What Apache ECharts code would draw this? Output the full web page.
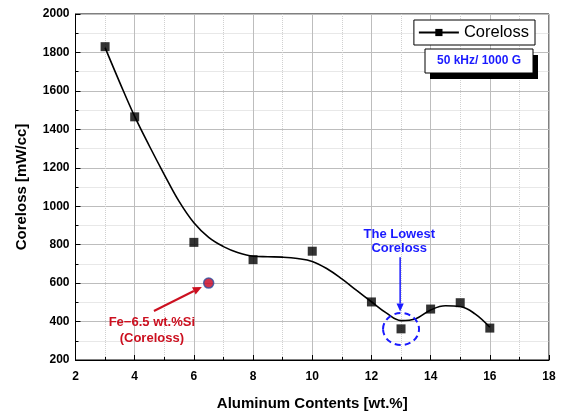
<!DOCTYPE html>
<html>
<head>
<meta charset="utf-8">
<script src="https://cdn.jsdelivr.net/npm/echarts@6/dist/echarts.min.js"></script>
<style>html,body{margin:0;padding:0;background:#fff}#c{width:562px;height:416px}</style>
</head>
<body>
<div id="c"></div>
<script>
// Measured points
const aluminum = [3, 4, 6, 8, 10, 12, 13, 14, 15, 16];
const coreloss = [1830, 1465, 812, 722, 766, 502, 362, 465, 498, 366];
// Fitted curve
const fitX = [3, 3.5, 4, 4.5, 5, 5.5, 6, 6.5, 7, 7.5, 8, 8.5, 9, 9.5, 10, 10.5, 11, 11.5, 12, 12.5, 13, 13.5, 14, 14.5, 15, 15.5, 16];
const fitY = [1825, 1642, 1467, 1312, 1165, 1025, 914, 838, 790, 758, 740, 737, 735, 728, 713, 675, 622, 562, 503, 445, 405, 415, 460, 482, 478, 440, 370];
// Reference Fe-6.5 wt.%Si
const refPoint = [6.5, 600];
const xTicks = {min: 2, max: 18, interval: 2};
const yTicks = {min: 200, max: 2000, interval: 200};

const FONT = '"Liberation Sans", Arial, sans-serif';
const chart = echarts.init(document.getElementById('c'), null, {renderer: 'canvas'});

const axisCommon = {
  axisLine: {show: true, onZero: false, lineStyle: {color: '#000', width: 1}},
  axisTick: {show: true, inside: true, length: 5, lineStyle: {color: '#000'}},
  minorTick: {show: true, splitNumber: 2, length: 3, lineStyle: {color: '#000'}},
  splitLine: {show: true, lineStyle: {color: '#bdbdbd', width: 1}},
  minorSplitLine: {show: true, lineStyle: {color: '#d0d0d0', type: 'dotted', width: 1}},
  axisLabel: {color: '#000', fontWeight: 'bold', fontSize: 12, fontFamily: FONT, formatter: v => String(v)},
  nameTextStyle: {color: '#000', fontWeight: 'bold', fontSize: 15, fontFamily: FONT}
};

chart.setOption({
  animation: false,
  backgroundColor: '#fff',
  grid: {left: 75.5, right: 13, top: 14, bottom: 55, show: true, borderColor: '#000', borderWidth: 1, backgroundColor: 'transparent'},
  legend: {
    data: ['Coreloss'],
    right: 27, top: 20,
    itemWidth: 40, itemHeight: 9, itemGap: 5,
    padding: [4, 6, 4, 4],
    borderColor: '#000', borderWidth: 1, backgroundColor: '#fff',
    textStyle: {color: '#000', fontSize: 16.5, fontFamily: FONT}
  },
  xAxis: Object.assign({}, axisCommon, {
    type: 'value', min: xTicks.min, max: xTicks.max, interval: xTicks.interval,
    name: 'Aluminum Contents [wt.%]', nameLocation: 'middle', nameGap: 36,
    axisLabel: Object.assign({}, axisCommon.axisLabel, {margin: 11})
  }),
  yAxis: Object.assign({}, axisCommon, {
    type: 'value', min: yTicks.min, max: yTicks.max, interval: yTicks.interval,
    name: 'Coreloss [mW/cc]', nameLocation: 'middle', nameGap: 46,
    axisLabel: Object.assign({}, axisCommon.axisLabel, {margin: 6})
  }),
  series: [
    {
      name: 'CorelossFit', type: 'line', smooth: 0.4, showSymbol: false, symbol: 'none',
      data: fitX.map((x, i) => [x, fitY[i]]),
      lineStyle: {color: '#000', width: 1.6}, z: 2, silent: true
    },
    {
      name: 'CorelossPts', type: 'scatter', symbol: 'rect', symbolSize: 9,
      data: aluminum.map((x, i) => [x, coreloss[i]]),
      itemStyle: {color: '#000'}, z: 3
    },
    {
      name: 'Coreloss', type: 'line', symbol: 'rect', symbolSize: 9, data: [],
      lineStyle: {color: '#000', width: 1.6}, itemStyle: {color: '#000'}
    },
    {
      name: 'Fe', type: 'scatter', symbol: 'circle', symbolSize: 10,
      data: [refPoint],
      itemStyle: {color: '#c8001e', borderColor: '#2e4f9e', borderWidth: 1.5}, z: 4
    }
  ]
});

function px(x, y) { return chart.convertToPixel({gridIndex: 0}, [x, y]); }
function arrow(a, b, color, width, head) {
  const dx = b[0] - a[0], dy = b[1] - a[1];
  const L = Math.sqrt(dx * dx + dy * dy), ux = dx / L, uy = dy / L;
  const bx = b[0] - ux * head, by = b[1] - uy * head;
  const w = head * 0.45;
  return [
    {type: 'line', shape: {x1: a[0], y1: a[1], x2: bx, y2: by}, style: {stroke: color, lineWidth: width}, z: 10},
    {type: 'polygon', shape: {points: [[b[0], b[1]], [bx - uy * w, by + ux * w], [bx + uy * w, by - ux * w]]}, style: {fill: color}, z: 10}
  ];
}
function label(pos, text, color) {
  return {type: 'text', x: pos[0], y: pos[1], style: {text: text, fill: color, font: 'bold 13px ' + FONT, align: 'center', verticalAlign: 'middle'}, z: 11};
}

const red = '#cc1020', blue = '#1a1aff';
const g = [];
g.push(...arrow(px(4.65, 455), px(6.27, 580), red, 2, 9));
g.push(label(px(4.58, 397), 'Fe\u22126.5 wt.%Si', red));
g.push(label(px(4.58, 314), '(Coreloss)', red));
g.push(label(px(12.94, 854), 'The Lowest', blue));
g.push(label(px(12.94, 780), 'Coreloss', blue));
g.push(...arrow(px(12.97, 734), px(12.97, 452), blue, 1.5, 8));
const circ = px(13, 361);
g.push({type: 'ellipse', shape: {cx: circ[0], cy: circ[1], rx: 18, ry: 16}, style: {fill: 'none', stroke: blue, lineWidth: 2, lineDash: [6, 4]}, z: 11});
// info box
g.push({type: 'rect', shape: {x: 430, y: 55, width: 108, height: 24}, style: {fill: '#000'}, z: 12});
g.push({type: 'rect', shape: {x: 425, y: 49, width: 108, height: 24}, style: {fill: '#fff', stroke: '#000', lineWidth: 1}, z: 13});
g.push({type: 'text', x: 479, y: 61, style: {text: '50 kHz/ 1000 G', fill: blue, font: 'bold 12px ' + FONT, align: 'center', verticalAlign: 'middle'}, z: 14});
chart.setOption({graphic: g});
</script>
</body>
</html>
